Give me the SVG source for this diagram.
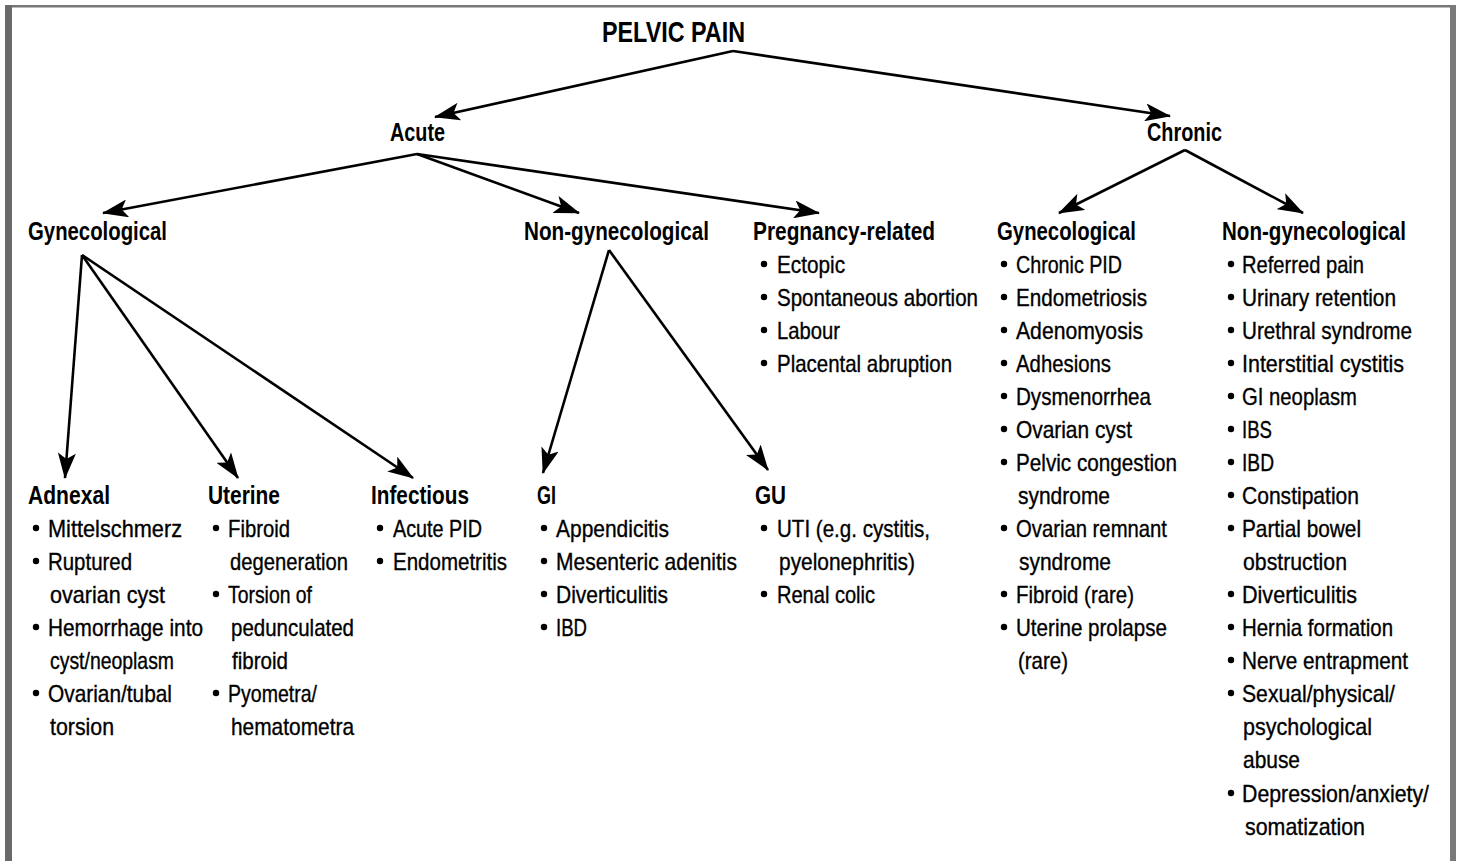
<svg xmlns="http://www.w3.org/2000/svg" width="1459" height="861" viewBox="0 0 1459 861">
<style>
.t{font-family:"Liberation Sans",Arial,sans-serif;fill:#000}
.title{font-size:30px;font-weight:bold}
.h{font-size:25px;font-weight:bold}
.i{font-size:24px;stroke:#000;stroke-width:0.35}
.c line{stroke:#000;stroke-width:2.6;fill:none}
.b{fill:#000}
</style>
<defs>
<marker id="ah" viewBox="0 0 26 18" refX="25" refY="9" markerWidth="26" markerHeight="18" markerUnits="userSpaceOnUse" orient="auto">
<path d="M0,0 L26,9 L0,18 L6,9 Z" fill="#000"/>
</marker>
</defs>
<rect width="1459" height="861" fill="#fff"/>
<g id="frame">
<rect x="5" y="5" width="1451" height="2.5" fill="#777"/>
<rect x="5" y="5" width="7" height="856" fill="#6a6a6a"/>
<rect x="1450" y="5" width="6" height="856" fill="#7a7a7a"/>
</g>
<g class="c" id="connectors">
<line x1="733" y1="51" x2="435" y2="117" marker-end="url(#ah)"/>
<line x1="733" y1="51" x2="1170" y2="116" marker-end="url(#ah)"/>
<line x1="417" y1="154" x2="103" y2="213" marker-end="url(#ah)"/>
<line x1="417" y1="154" x2="579" y2="213" marker-end="url(#ah)"/>
<line x1="417" y1="154" x2="819" y2="213" marker-end="url(#ah)"/>
<line x1="1185" y1="150" x2="1059" y2="213" marker-end="url(#ah)"/>
<line x1="1185" y1="150" x2="1303" y2="213" marker-end="url(#ah)"/>
<line x1="82" y1="255" x2="65" y2="478" marker-end="url(#ah)"/>
<line x1="82" y1="255" x2="238" y2="478" marker-end="url(#ah)"/>
<line x1="82" y1="255" x2="413" y2="478" marker-end="url(#ah)"/>
<line x1="609" y1="250" x2="543" y2="473" marker-end="url(#ah)"/>
<line x1="609" y1="250" x2="768" y2="470" marker-end="url(#ah)"/>
</g>
<g id="pelvic-pain"><text class="t title" x="602" y="42" textLength="143" lengthAdjust="spacingAndGlyphs">PELVIC PAIN</text></g>
<g id="acute"><text class="t h" x="390" y="141" textLength="55" lengthAdjust="spacingAndGlyphs">Acute</text></g>
<g id="chronic"><text class="t h" x="1147" y="141" textLength="75" lengthAdjust="spacingAndGlyphs">Chronic</text></g>

<g id="acute-gyn"><text class="t h" x="28" y="240" textLength="139" lengthAdjust="spacingAndGlyphs">Gynecological</text></g>
<g id="acute-nongyn"><text class="t h" x="524" y="240" textLength="185" lengthAdjust="spacingAndGlyphs">Non-gynecological</text></g>

<g id="pregnancy">
<text class="t h" x="753" y="240" textLength="182" lengthAdjust="spacingAndGlyphs">Pregnancy-related</text>
<circle class="b" cx="764" cy="264" r="3.2"/><text class="t i" x="777" y="273" textLength="68" lengthAdjust="spacingAndGlyphs">Ectopic</text>
<circle class="b" cx="764" cy="297" r="3.2"/><text class="t i" x="777" y="306" textLength="201" lengthAdjust="spacingAndGlyphs">Spontaneous abortion</text>
<circle class="b" cx="764" cy="330" r="3.2"/><text class="t i" x="777" y="339" textLength="63" lengthAdjust="spacingAndGlyphs">Labour</text>
<circle class="b" cx="764" cy="363" r="3.2"/><text class="t i" x="777" y="372" textLength="175" lengthAdjust="spacingAndGlyphs">Placental abruption</text>
</g>

<g id="chronic-gyn">
<text class="t h" x="997" y="240" textLength="139" lengthAdjust="spacingAndGlyphs">Gynecological</text>
<circle class="b" cx="1004" cy="264" r="3.2"/><text class="t i" x="1016" y="273" textLength="106" lengthAdjust="spacingAndGlyphs">Chronic PID</text>
<circle class="b" cx="1004" cy="297" r="3.2"/><text class="t i" x="1016" y="306" textLength="131" lengthAdjust="spacingAndGlyphs">Endometriosis</text>
<circle class="b" cx="1004" cy="330" r="3.2"/><text class="t i" x="1016" y="339" textLength="127" lengthAdjust="spacingAndGlyphs">Adenomyosis</text>
<circle class="b" cx="1004" cy="363" r="3.2"/><text class="t i" x="1016" y="372" textLength="95" lengthAdjust="spacingAndGlyphs">Adhesions</text>
<circle class="b" cx="1004" cy="396" r="3.2"/><text class="t i" x="1016" y="405" textLength="135" lengthAdjust="spacingAndGlyphs">Dysmenorrhea</text>
<circle class="b" cx="1004" cy="429" r="3.2"/><text class="t i" x="1016" y="438" textLength="116" lengthAdjust="spacingAndGlyphs">Ovarian cyst</text>
<circle class="b" cx="1004" cy="462" r="3.2"/><text class="t i" x="1016" y="471" textLength="161" lengthAdjust="spacingAndGlyphs">Pelvic congestion</text>
<text class="t i" x="1018" y="504" textLength="92" lengthAdjust="spacingAndGlyphs">syndrome</text>
<circle class="b" cx="1004" cy="528" r="3.2"/><text class="t i" x="1016" y="537" textLength="151" lengthAdjust="spacingAndGlyphs">Ovarian remnant</text>
<text class="t i" x="1019" y="570" textLength="92" lengthAdjust="spacingAndGlyphs">syndrome</text>
<circle class="b" cx="1004" cy="594" r="3.2"/><text class="t i" x="1016" y="603" textLength="118" lengthAdjust="spacingAndGlyphs">Fibroid (rare)</text>
<circle class="b" cx="1004" cy="627" r="3.2"/><text class="t i" x="1016" y="636" textLength="151" lengthAdjust="spacingAndGlyphs">Uterine prolapse</text>
<text class="t i" x="1018" y="669" textLength="50" lengthAdjust="spacingAndGlyphs">(rare)</text>
</g>

<g id="chronic-nongyn">
<text class="t h" x="1222" y="240" textLength="184" lengthAdjust="spacingAndGlyphs">Non-gynecological</text>
<circle class="b" cx="1231" cy="264" r="3.2"/><text class="t i" x="1242" y="273" textLength="122" lengthAdjust="spacingAndGlyphs">Referred pain</text>
<circle class="b" cx="1231" cy="297" r="3.2"/><text class="t i" x="1242" y="306" textLength="154" lengthAdjust="spacingAndGlyphs">Urinary retention</text>
<circle class="b" cx="1231" cy="330" r="3.2"/><text class="t i" x="1242" y="339" textLength="170" lengthAdjust="spacingAndGlyphs">Urethral syndrome</text>
<circle class="b" cx="1231" cy="363" r="3.2"/><text class="t i" x="1242" y="372" textLength="162" lengthAdjust="spacingAndGlyphs">Interstitial cystitis</text>
<circle class="b" cx="1231" cy="396" r="3.2"/><text class="t i" x="1242" y="405" textLength="115" lengthAdjust="spacingAndGlyphs">GI neoplasm</text>
<circle class="b" cx="1231" cy="429" r="3.2"/><text class="t i" x="1242" y="438" textLength="30" lengthAdjust="spacingAndGlyphs">IBS</text>
<circle class="b" cx="1231" cy="462" r="3.2"/><text class="t i" x="1242" y="471" textLength="32" lengthAdjust="spacingAndGlyphs">IBD</text>
<circle class="b" cx="1231" cy="495" r="3.2"/><text class="t i" x="1242" y="504" textLength="117" lengthAdjust="spacingAndGlyphs">Constipation</text>
<circle class="b" cx="1231" cy="528" r="3.2"/><text class="t i" x="1242" y="537" textLength="119" lengthAdjust="spacingAndGlyphs">Partial bowel</text>
<text class="t i" x="1243" y="570" textLength="104" lengthAdjust="spacingAndGlyphs">obstruction</text>
<circle class="b" cx="1231" cy="594" r="3.2"/><text class="t i" x="1242" y="603" textLength="115" lengthAdjust="spacingAndGlyphs">Diverticulitis</text>
<circle class="b" cx="1231" cy="627" r="3.2"/><text class="t i" x="1242" y="636" textLength="151" lengthAdjust="spacingAndGlyphs">Hernia formation</text>
<circle class="b" cx="1231" cy="660" r="3.2"/><text class="t i" x="1242" y="669" textLength="166" lengthAdjust="spacingAndGlyphs">Nerve entrapment</text>
<circle class="b" cx="1231" cy="693" r="3.2"/><text class="t i" x="1242" y="702" textLength="153" lengthAdjust="spacingAndGlyphs">Sexual/physical/</text>
<text class="t i" x="1243" y="735" textLength="129" lengthAdjust="spacingAndGlyphs">psychological</text>
<text class="t i" x="1243" y="768" textLength="57" lengthAdjust="spacingAndGlyphs">abuse</text>
<circle class="b" cx="1231" cy="793" r="3.2"/><text class="t i" x="1242" y="802" textLength="187" lengthAdjust="spacingAndGlyphs">Depression/anxiety/</text>
<text class="t i" x="1245" y="835" textLength="120" lengthAdjust="spacingAndGlyphs">somatization</text>
</g>

<g id="adnexal">
<text class="t h" x="28" y="504" textLength="82" lengthAdjust="spacingAndGlyphs">Adnexal</text>
<circle class="b" cx="36" cy="528" r="3.2"/><text class="t i" x="48" y="537" textLength="134" lengthAdjust="spacingAndGlyphs">Mittelschmerz</text>
<circle class="b" cx="36" cy="561" r="3.2"/><text class="t i" x="48" y="570" textLength="84" lengthAdjust="spacingAndGlyphs">Ruptured</text>
<text class="t i" x="50" y="603" textLength="115" lengthAdjust="spacingAndGlyphs">ovarian cyst</text>
<circle class="b" cx="36" cy="627" r="3.2"/><text class="t i" x="48" y="636" textLength="155" lengthAdjust="spacingAndGlyphs">Hemorrhage into</text>
<text class="t i" x="50" y="669" textLength="124" lengthAdjust="spacingAndGlyphs">cyst/neoplasm</text>
<circle class="b" cx="36" cy="693" r="3.2"/><text class="t i" x="48" y="702" textLength="124" lengthAdjust="spacingAndGlyphs">Ovarian/tubal</text>
<text class="t i" x="50" y="735" textLength="64" lengthAdjust="spacingAndGlyphs">torsion</text>
</g>

<g id="uterine">
<text class="t h" x="208" y="504" textLength="72" lengthAdjust="spacingAndGlyphs">Uterine</text>
<circle class="b" cx="216" cy="528" r="3.2"/><text class="t i" x="228" y="537" textLength="62" lengthAdjust="spacingAndGlyphs">Fibroid</text>
<text class="t i" x="230" y="570" textLength="118" lengthAdjust="spacingAndGlyphs">degeneration</text>
<circle class="b" cx="216" cy="594" r="3.2"/><text class="t i" x="228" y="603" textLength="84" lengthAdjust="spacingAndGlyphs">Torsion of</text>
<text class="t i" x="231" y="636" textLength="123" lengthAdjust="spacingAndGlyphs">pedunculated</text>
<text class="t i" x="232" y="669" textLength="56" lengthAdjust="spacingAndGlyphs">fibroid</text>
<circle class="b" cx="216" cy="693" r="3.2"/><text class="t i" x="228" y="702" textLength="89" lengthAdjust="spacingAndGlyphs">Pyometra/</text>
<text class="t i" x="231" y="735" textLength="123" lengthAdjust="spacingAndGlyphs">hematometra</text>
</g>

<g id="infectious">
<text class="t h" x="371" y="504" textLength="98" lengthAdjust="spacingAndGlyphs">Infectious</text>
<circle class="b" cx="380" cy="528" r="3.2"/><text class="t i" x="393" y="537" textLength="89" lengthAdjust="spacingAndGlyphs">Acute PID</text>
<circle class="b" cx="380" cy="561" r="3.2"/><text class="t i" x="393" y="570" textLength="114" lengthAdjust="spacingAndGlyphs">Endometritis</text>
</g>

<g id="gi">
<text class="t h" x="537" y="504" textLength="19" lengthAdjust="spacingAndGlyphs">GI</text>
<circle class="b" cx="544" cy="528" r="3.2"/><text class="t i" x="556" y="537" textLength="113" lengthAdjust="spacingAndGlyphs">Appendicitis</text>
<circle class="b" cx="544" cy="561" r="3.2"/><text class="t i" x="556" y="570" textLength="181" lengthAdjust="spacingAndGlyphs">Mesenteric adenitis</text>
<circle class="b" cx="544" cy="594" r="3.2"/><text class="t i" x="556" y="603" textLength="112" lengthAdjust="spacingAndGlyphs">Diverticulitis</text>
<circle class="b" cx="544" cy="627" r="3.2"/><text class="t i" x="556" y="636" textLength="31" lengthAdjust="spacingAndGlyphs">IBD</text>
</g>

<g id="gu">
<text class="t h" x="755" y="504" textLength="31" lengthAdjust="spacingAndGlyphs">GU</text>
<circle class="b" cx="764" cy="528" r="3.2"/><text class="t i" x="777" y="537" textLength="153" lengthAdjust="spacingAndGlyphs">UTI (e.g. cystitis,</text>
<text class="t i" x="779" y="570" textLength="136" lengthAdjust="spacingAndGlyphs">pyelonephritis)</text>
<circle class="b" cx="764" cy="594" r="3.2"/><text class="t i" x="777" y="603" textLength="98" lengthAdjust="spacingAndGlyphs">Renal colic</text>
</g>
</svg>
